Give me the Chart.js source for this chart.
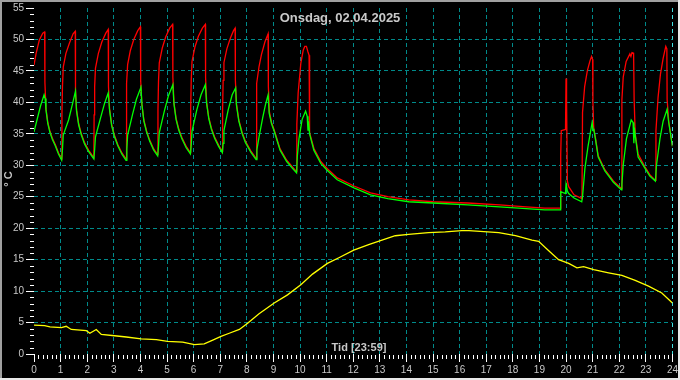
<!DOCTYPE html>
<html>
<head>
<meta charset="utf-8">
<script src="https://cdn.jsdelivr.net/npm/chart.js@4.4.1/dist/chart.umd.min.js"></script>
<style>
  html, body { margin: 0; padding: 0; background: #000; }
  #wrap { width: 680px; height: 380px; }
  canvas { display: block; background: #000; }
</style>
</head>
<body>
<div id="wrap"><canvas id="tempChart" width="680" height="380"></canvas></div>
<script>
// Texts
const titleText = 'Onsdag, 02.04.2025';
const timeText = 'Tid [23:59]';
const unitText = '° C';

// Axis ranges
const hourMin = 0, hourMax = 24, hourStep = 1;
const tempMin = 0, tempMax = 55, tempStep = 5;

// Supply temperature (red), hours of day / deg C
const redHours = [
  0.00, 0.08, 0.20, 0.33, 0.40, 0.41, 0.45, 0.52, 0.60, 0.70, 0.80, 0.92, 1.04,
  1.05, 1.07, 1.10, 1.20, 1.33, 1.47, 1.55, 1.56, 1.60, 1.68, 1.78, 1.90, 2.05, 2.25,
  2.26, 2.28, 2.31, 2.42, 2.55, 2.70, 2.79, 2.80, 2.84, 2.92, 3.02, 3.15, 3.30, 3.46,
  3.47, 3.49, 3.52, 3.62, 3.75, 3.90, 4.00, 4.01, 4.05, 4.13, 4.23, 4.35, 4.50, 4.65,
  4.66, 4.68, 4.71, 4.82, 4.95, 5.10, 5.21, 5.22, 5.26, 5.34, 5.44, 5.56, 5.72, 5.88,
  5.89, 5.91, 5.94, 6.05, 6.18, 6.33, 6.44, 6.45, 6.49, 6.57, 6.67, 6.79, 6.94, 7.08,
  7.09, 7.11, 7.14, 7.25, 7.38, 7.50, 7.56, 7.57, 7.61, 7.70, 7.82, 7.95, 8.15, 8.35,
  8.36, 8.38, 8.46, 8.55, 8.68, 8.80, 8.81, 8.85, 8.93, 9.03, 9.25, 9.50, 9.70, 9.87,
  9.88, 9.93, 10.03, 10.12, 10.18, 10.24, 10.30, 10.34, 10.36, 10.52, 10.78, 11.02, 11.40, 12.03, 12.65,
  13.30, 14.09, 15.00, 16.30, 17.50, 18.50, 19.20, 19.78,
  19.80, 19.82, 19.98, 20.00, 20.02, 20.05, 20.10, 20.30, 20.60,
  20.62, 20.70, 20.80, 20.90, 20.96, 21.00, 21.01, 21.04, 21.10, 21.21, 21.46, 21.78, 22.08,
  22.10, 22.15, 22.26, 22.40, 22.44, 22.48, 22.54, 22.56, 22.60, 22.71, 22.96, 23.15, 23.36,
  23.38, 23.46, 23.55, 23.65, 23.75, 23.79, 23.80, 23.86, 24.00
];
const redTemps = [
  45.9, 47.8, 49.9, 51.0, 51.2, 43.2, 39.0, 36.8, 35.4, 34.2, 33.3, 32.0, 31.0,
  38.0, 42.5, 45.6, 47.8, 49.4, 50.9, 51.3, 42.0, 38.8, 36.6, 35.0, 33.6, 32.4, 31.2,
  38.0, 42.5, 45.4, 47.8, 49.6, 51.0, 51.6, 42.5, 39.0, 36.5, 34.8, 33.3, 32.0, 31.0,
  38.5, 43.0, 46.0, 48.2, 50.0, 51.4, 52.0, 43.5, 39.8, 37.2, 35.5, 34.0, 32.6, 31.7,
  38.8, 43.3, 46.3, 48.6, 50.4, 51.8, 52.4, 44.0, 40.0, 37.5, 35.8, 34.4, 33.0, 32.0,
  39.0, 43.5, 46.5, 48.8, 50.5, 51.8, 52.4, 44.0, 40.0, 37.6, 35.9, 34.5, 33.2, 32.2,
  39.0, 43.5, 46.3, 48.5, 50.2, 51.4, 51.8, 43.5, 39.8, 37.2, 35.3, 33.8, 32.3, 31.1,
  38.5, 43.0, 45.7, 47.6, 49.6, 50.9, 42.5, 38.5, 36.8, 35.6, 32.6, 30.8, 29.8, 29.0,
  36.5, 41.5, 46.2, 48.3, 48.9, 48.9, 48.0, 47.5, 35.2, 32.7, 30.6, 29.5, 28.0, 26.7, 25.6,
  25.0, 24.5, 24.2, 24.0, 23.7, 23.4, 23.2, 23.2,
  31.6, 35.5, 35.7, 43.8, 40.2, 27.5, 26.6, 25.3, 24.7,
  38.4, 42.5, 45.0, 46.6, 47.3, 46.8, 40.0, 36.0, 34.5, 31.5, 29.3, 27.5, 26.3,
  40.4, 44.0, 46.5, 47.7, 47.3, 47.9, 47.8, 40.5, 35.0, 31.8, 29.8, 28.5, 27.6,
  35.5, 40.8, 44.5, 47.0, 48.9, 48.5, 40.5, 37.0, 33.1
];

// Return temperature (green)
const greenHours = [
  0.00, 0.10, 0.25, 0.38, 0.42, 0.45, 0.52, 0.60, 0.70, 0.80, 0.92, 1.04,
  1.07, 1.10, 1.30, 1.45, 1.56, 1.60, 1.68, 1.78, 1.90, 2.05, 2.25,
  2.28, 2.31, 2.50, 2.65, 2.79, 2.84, 2.92, 3.02, 3.15, 3.30, 3.46,
  3.49, 3.52, 3.70, 3.85, 4.02, 4.06, 4.13, 4.23, 4.35, 4.50, 4.65,
  4.68, 4.71, 4.90, 5.05, 5.22, 5.26, 5.34, 5.44, 5.56, 5.72, 5.88,
  5.91, 5.94, 6.12, 6.28, 6.44, 6.49, 6.57, 6.67, 6.79, 6.94, 7.08,
  7.11, 7.14, 7.30, 7.45, 7.58, 7.61, 7.70, 7.82, 7.95, 8.15, 8.35,
  8.38, 8.46, 8.60, 8.70, 8.80, 8.84, 8.93, 9.03, 9.25, 9.50, 9.70, 9.87,
  9.90, 9.96, 10.08, 10.21, 10.27, 10.30, 10.32, 10.36, 10.52, 10.78, 11.02, 11.40, 12.03, 12.65,
  13.30, 14.09, 15.00, 16.30, 17.50, 18.50, 19.20, 19.79,
  19.80, 19.98, 20.00, 20.02, 20.05, 20.10, 20.30, 20.59,
  20.62, 20.71, 20.83, 20.98, 21.02, 21.04, 21.10, 21.21, 21.46, 21.78, 22.08,
  22.10, 22.15, 22.27, 22.45, 22.52, 22.55, 22.57, 22.60, 22.71, 22.96, 23.15, 23.36,
  23.40, 23.53, 23.65, 23.80, 23.86, 24.00
];
const greenTemps = [
  35.3, 37.0, 39.5, 41.2, 40.6, 38.8, 36.6, 35.2, 34.0, 33.1, 31.8, 30.8,
  32.5, 34.8, 37.2, 39.8, 41.8, 38.6, 36.4, 34.8, 33.4, 32.2, 31.0,
  32.5, 34.5, 37.5, 39.8, 41.5, 38.8, 36.3, 34.6, 33.1, 31.8, 30.8,
  32.6, 34.8, 38.0, 40.5, 42.4, 39.6, 37.0, 35.3, 33.8, 32.4, 31.5,
  33.0, 35.2, 38.6, 41.0, 42.8, 39.8, 37.3, 35.6, 34.2, 32.8, 31.8,
  33.2, 35.4, 38.8, 41.2, 42.8, 39.8, 37.4, 35.7, 34.3, 33.0, 32.0,
  33.5, 35.5, 38.8, 41.2, 42.3, 39.6, 37.0, 35.1, 33.6, 32.1, 30.9,
  32.5, 34.5, 37.6, 39.6, 41.2, 38.3, 36.6, 35.4, 32.4, 30.6, 29.6, 28.8,
  31.5, 34.2, 37.3, 38.6, 37.8, 35.5, 37.0, 35.0, 32.4, 30.3, 29.2, 27.7, 26.4, 25.3,
  24.7, 24.2, 24.0, 23.7, 23.4, 23.1, 22.9, 22.9,
  25.8, 25.5, 27.0, 26.6, 25.9, 25.5, 24.8, 24.2,
  25.0, 29.5, 33.1, 36.8, 35.5, 35.8, 34.3, 31.3, 29.1, 27.3, 26.1,
  27.0, 30.0, 34.2, 37.2, 36.8, 33.5, 36.0, 34.8, 31.3, 29.6, 28.3, 27.5,
  30.0, 34.2, 37.0, 38.9, 36.8, 33.0
];

// Outdoor temperature (yellow)
const outHours = [
  0.00, 0.40, 0.60, 1.03, 1.21, 1.40, 1.97, 2.10, 2.34, 2.53,
  3.03, 3.47, 4.03, 4.60, 5.02, 5.59, 6.03, 6.40, 6.72, 7.03,
  7.34, 7.72, 8.03, 8.46, 9.03, 9.53, 10.03, 10.47, 11.03, 11.46,
  12.02, 12.58, 13.08, 13.58, 14.08, 14.83, 15.46, 16.08, 16.35, 17.47,
  18.10, 18.72, 18.97, 19.35, 19.72, 20.10, 20.41, 20.66, 21.04, 21.60,
  22.10, 22.60, 23.10, 23.60, 24.00
];
const outTemps = [
  4.6, 4.5, 4.3, 4.2, 4.4, 3.9, 3.7, 3.3, 3.9, 3.1,
  2.9, 2.7, 2.4, 2.3, 2.0, 1.9, 1.5, 1.6, 2.2, 2.8,
  3.3, 3.9, 4.9, 6.4, 8.1, 9.4, 11.0, 12.7, 14.4, 15.3,
  16.5, 17.4, 18.1, 18.8, 19.0, 19.3, 19.4, 19.6, 19.6, 19.3,
  18.8, 18.1, 17.9, 16.4, 15.0, 14.4, 13.7, 13.9, 13.4, 12.9,
  12.5, 11.7, 10.8, 9.7, 8.1
];

// Colours
const gridColor = '#008a8a';
const nowLineColor = '#3fe0e0';
const textColor = '#c8c8c8';
const tickColor = '#ffffff';
const fontFamily = '"Liberation Sans", Arial, sans-serif';

function toPoints(hours, temps) {
    if (hours.length !== temps.length) {
        console.error('length mismatch', hours.length, temps.length);
    }
    return hours.map((h, i) => ({ x: h, y: temps[i] }));
}

// Minor ticks, texts and the frame drawn on top of the chart
const decorPlugin = {
    id: 'decor',
    afterDraw(chart) {
        const { ctx, chartArea, scales } = chart;
        const x = scales.x, y = scales.y;
        ctx.save();

        // minor ticks
        ctx.strokeStyle = tickColor;
        ctx.lineWidth = 1;
        ctx.beginPath();
        for (let v = tempMin; v <= tempMax; v++) {
            if (v % tempStep === 0) continue;
            const py = Math.round(y.getPixelForValue(v)) + 0.5;
            ctx.moveTo(chartArea.left - 4, py);
            ctx.lineTo(chartArea.left, py);
        }
        for (let m = 0; m <= hourMax * 6; m++) {
            if (m % 6 === 0) continue;
            const px = Math.round(x.getPixelForValue(m / 6)) + 0.5;
            ctx.moveTo(px, chartArea.bottom + 1);
            ctx.lineTo(px, chartArea.bottom + 5);
        }
        ctx.stroke();

        // texts
        ctx.fillStyle = textColor;
        ctx.textAlign = 'center';
        ctx.textBaseline = 'middle';
        ctx.font = 'bold 13px ' + fontFamily;
        ctx.fillText(titleText, 340, 18);
        ctx.font = 'bold 11px ' + fontFamily;
        ctx.fillText(timeText, 359, 348);
        ctx.translate(9, 179);
        ctx.rotate(-Math.PI / 2);
        ctx.fillText(unitText, 0, 0);
        ctx.setTransform(1, 0, 0, 1, 0, 0);

        // frame
        ctx.fillStyle = '#a0a0a0';
        ctx.fillRect(0, 0, 680, 2);
        ctx.fillRect(0, 0, 2, 380);
        ctx.fillStyle = '#e8e8e8';
        ctx.fillRect(0, 378, 680, 2);
        ctx.fillRect(678, 0, 2, 380);
        ctx.restore();
    }
};

const datasets = [
    { label: 'Retur', data: toPoints(greenHours, greenTemps), borderColor: '#00ff00', order: 0 },
    { label: 'Tur', data: toPoints(redHours, redTemps), borderColor: '#ff0000', order: 1 },
    { label: 'Ute', data: toPoints(outHours, outTemps), borderColor: '#ffff00', order: 2 }
].map(ds => Object.assign(ds, {
    borderWidth: 1.3,
    pointRadius: 0,
    tension: 0,
    fill: false
}));

new Chart(document.getElementById('tempChart'), {
    type: 'line',
    data: { datasets: datasets },
    options: {
        responsive: false,
        animation: false,
        events: [],
        layout: {
            autoPadding: false,
            padding: { left: 0, right: 6, top: 4, bottom: 0 }
        },
        plugins: {
            legend: { display: false },
            tooltip: { enabled: false },
            title: { display: false }
        },
        scales: {
            x: {
                type: 'linear',
                min: hourMin,
                max: hourMax,
                afterFit: (scale) => { scale.height = 26; },
                border: { display: false, dash: [4, 3] },
                grid: {
                    color: (c) => c.tick && c.tick.value === hourMax ? nowLineColor
                        : (c.tick && c.tick.value === hourMin ? 'rgba(0,0,0,0)' : gridColor),
                    tickColor: tickColor,
                    tickLength: 8,
                    lineWidth: 1
                },
                ticks: {
                    stepSize: hourStep,
                    autoSkip: false,
                    maxRotation: 0,
                    padding: 2,
                    color: textColor,
                    font: { family: fontFamily, size: 10 }
                }
            },
            y: {
                min: tempMin,
                max: tempMax,
                afterFit: (scale) => { scale.width = 34; },
                border: { display: false, dash: [4, 3] },
                grid: {
                    color: (c) => c.tick && (c.tick.value === tempMin || c.tick.value === tempMax)
                        ? 'rgba(0,0,0,0)' : gridColor,
                    tickColor: tickColor,
                    tickLength: 8,
                    lineWidth: 1
                },
                ticks: {
                    stepSize: tempStep,
                    padding: 2,
                    color: textColor,
                    font: { family: fontFamily, size: 10 }
                }
            }
        }
    },
    plugins: [decorPlugin]
});
</script>
</body>
</html>
